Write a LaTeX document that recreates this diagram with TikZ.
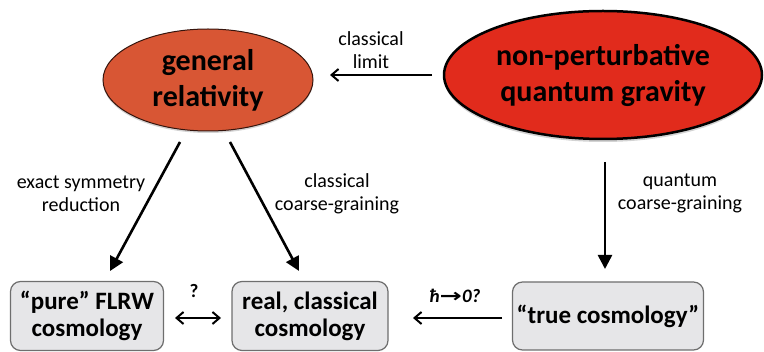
\documentclass[tikz,border=0pt]{standalone}
\usepackage{fontspec}
\setmainfont{Carlito}
\newfontfamily\dejavu{DejaVu Sans}
\usetikzlibrary{shapes.geometric,arrows.meta,shadows}
\definecolor{grfill}{RGB}{216,86,52}
\definecolor{qgfill}{RGB}{225,43,28}
\definecolor{boxfill}{RGB}{230,230,232}
\definecolor{boxline}{RGB}{110,110,110}
\tikzset{
  bigell/.style={ellipse, inner sep=0pt, align=center, font=\fontsize{30}{36}\selectfont\bfseries},
  cosmobox/.style={draw=boxline, line width=1.2pt, fill=boxfill, rounded corners=10pt, inner sep=0pt, align=center, font=\fontsize{25}{27}\selectfont\bfseries},
  lbl/.style={align=center, font=\fontsize{20}{23}\selectfont},
  slbl/.style={font=\fontsize{19}{21}\selectfont\bfseries},
  fatarrow/.style={line width=2.6pt, -{Triangle[length=14pt,width=14pt]}},
  thinarrow/.style={line width=2pt, -{Straight Barb[length=7pt,width=12pt]}},
}
\begin{document}
\begin{tikzpicture}[x=1pt,y=-1pt]
\useasboundingbox (0,0) rectangle (764,352);
\node[bigell, draw=black!75!grfill, line width=1pt, fill=grfill, minimum width=210pt, minimum height=102pt,
      drop shadow={opacity=0.35, shadow xshift=0pt, shadow yshift=-2pt}] (gr) at (208,80) {general\\relativity};
\node[bigell, draw=black, line width=2.5pt, fill=qgfill, minimum width=318pt, minimum height=128pt,
      drop shadow={opacity=0.35, shadow xshift=0pt, shadow yshift=-3pt}] (qg) at (603,75) {non-perturbative\\quantum gravity};
\node[cosmobox, minimum width=153pt, minimum height=69pt] (flrw) at (87,316) {“pure” FLRW\\cosmology};
\node[cosmobox, minimum width=156pt, minimum height=69pt] (real) at (310,316) {real, classical\\cosmology};
\node[cosmobox, minimum width=191pt, minimum height=68pt] (true) at (608,316) {“true cosmology”};

\coordinate (a1s) at (180,142); \coordinate (a1e) at (110,271);
\coordinate (a2s) at (230,142); \coordinate (a2e) at (299,271);
\coordinate (a3s) at (605,162); \coordinate (a3e) at (605,269);
\draw[fatarrow] (a1s) -- (a1e);
\draw[fatarrow] (a2s) -- (a2e);
\draw[fatarrow] (a3s) -- (a3e);

\coordinate (clS) at (432,75); \coordinate (clE) at (330,75);
\draw[thinarrow] (clS) -- (clE);
\coordinate (hbS) at (502,318); \coordinate (hbE) at (413,318);
\draw[thinarrow] (hbS) -- (hbE);
\coordinate (qL) at (175,318); \coordinate (qR) at (221,318);
\draw[line width=2pt, {Straight Barb[length=7pt,width=12pt]}-{Straight Barb[length=7pt,width=12pt]}] (qL) -- (qR);

\node[lbl] (lcl) at (371,50) {classical\\limit};
\node[lbl] (lex) at (81,194) {exact symmetry\\reduction};
\node[lbl] (lcc) at (337,194) {classical\\coarse-graining};
\node[lbl] (lqc) at (680,193) {quantum\\coarse-graining};
\node[slbl] (lq) at (194,291) {?};
\node[slbl] (lhb) at (455,296) {\itshape ħ{\dejavu\upshape\bfseries\scalebox{1.4}[1]{→}}0?};
\end{tikzpicture}
\end{document}
